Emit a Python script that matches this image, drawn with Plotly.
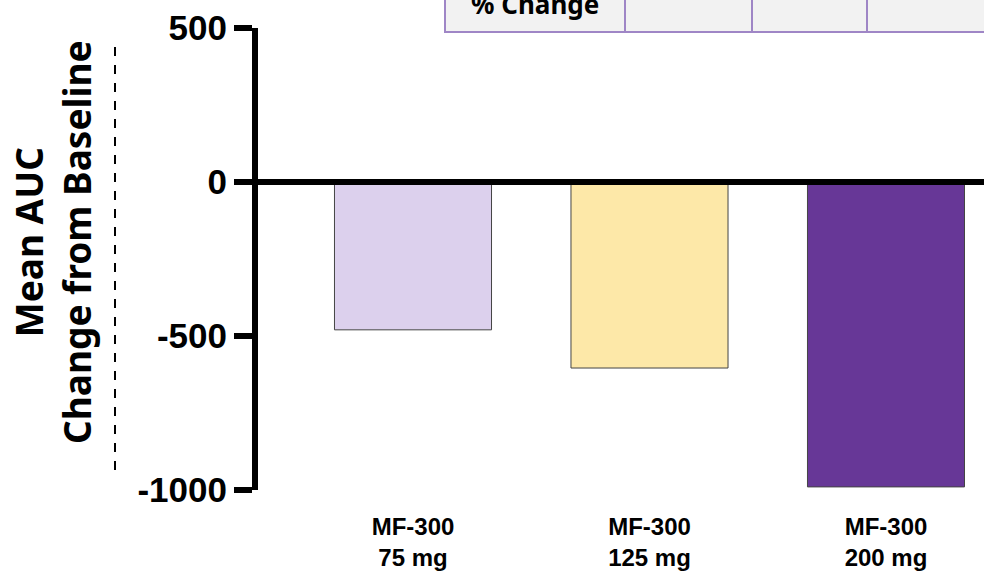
import plotly.graph_objects as go

categories = ["MF-300<br>75 mg", "MF-300<br>125 mg", "MF-300<br>200 mg"]
values = [-480, -604, -990]
colors = ["#dcd0ed", "#fde8a8", "#673797"]
y_ticks = [-1000, -500, 0, 500]
table_label = "% Change"
table_values = ["", "", ""]

L, R, T, B = 258, 0, 28, 83
W, H = 984, 573
pw, ph = W - L - R, H - T - B

def px(xp):
    return (xp - L) / pw

def py(yp):
    return (H - B - yp) / ph

fig = go.Figure()
fig.add_trace(go.Bar(
    x=list(range(len(categories))), y=values,
    marker=dict(color=colors, line=dict(color="#444444", width=1)),
    width=0.664,
))

shapes = []
# zero line
shapes.append(dict(type="line", xref="paper", yref="y", x0=0, x1=1, y0=0, y1=0,
                   line=dict(color="black", width=6), layer="above"))
# clipped dashed artifact near the y title
shapes.append(dict(type="line", xref="paper", yref="paper", x0=px(115), x1=px(115),
                   y0=py(470), y1=py(45), line=dict(color="black", width=2, dash="dash"),
                   layer="above"))
# table
col_edges = [445, 625, 752, 867, 995]
top, bot = -30, 32
for i in range(len(col_edges) - 1):
    shapes.append(dict(type="rect", xref="paper", yref="paper",
                       x0=px(col_edges[i]), x1=px(col_edges[i + 1]),
                       y0=py(bot), y1=py(top),
                       fillcolor="#f2f2f2", line=dict(color="#9f86c6", width=2),
                       layer="above"))

annotations = [
    dict(text=table_label, xref="paper", yref="paper",
         x=px((col_edges[0] + col_edges[1]) / 2), y=py(4), showarrow=False,
         font=dict(family="Noto Sans", size=26, color="black", weight="bold"),
         xanchor="center", yanchor="middle"),
    dict(text="<b>Mean AUC<br>Change from Baseline</b>", xref="paper", yref="paper",
         x=px(52), y=py(242), textangle=-90, showarrow=False,
         font=dict(family="Noto Sans", size=37, color="black"),
         xanchor="center", yanchor="middle"),
]
for j, v in enumerate(table_values):
    annotations.append(dict(text=v, xref="paper", yref="paper",
                            x=px((col_edges[j + 1] + col_edges[j + 2]) / 2), y=py(4),
                            showarrow=False, font=dict(family="Noto Sans", size=24)))

fig.update_layout(
    width=W, height=H,
    margin=dict(l=L, r=R, t=T, b=B, pad=0),
    plot_bgcolor="white", paper_bgcolor="white",
    showlegend=False,
    bargap=0.336,
    shapes=shapes,
    annotations=annotations,
    xaxis=dict(
        range=[-0.6554, 2.4144], automargin=False,
        tickvals=list(range(len(categories))), ticktext=[f"<b>{c}</b>" for c in categories],
        ticks="outside", ticklen=15, tickcolor="rgba(0,0,0,0)",
        showline=False, showgrid=False, zeroline=False,
        tickfont=dict(family="Liberation Sans", size=24, color="black"),
    ),
    yaxis=dict(
        range=[-1000, 500], automargin=False,
        tickvals=y_ticks, ticktext=[f"<b>{t}</b>" for t in y_ticks],
        ticks="outside", ticklen=18, tickwidth=6, tickcolor="black",
        showline=True, linewidth=6, linecolor="black",
        showgrid=False, zeroline=False,
        tickfont=dict(family="Liberation Sans", size=35, color="black"),
    ),
)

fig.write_html("out.html", config={"displayModeBar": False},
               post_script="document.body.style.margin='0';")
